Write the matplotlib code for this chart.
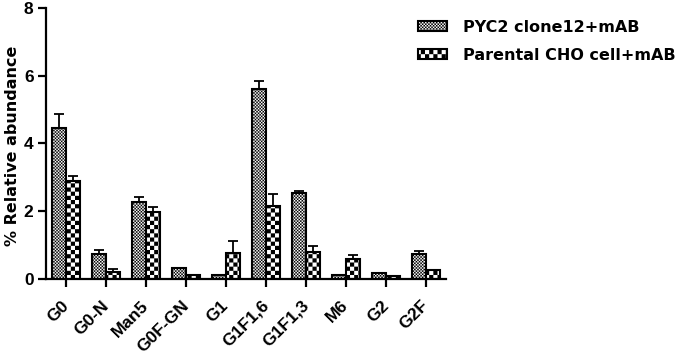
import warnings
warnings.filterwarnings("ignore")
import numpy as np
import matplotlib
matplotlib.use("Agg")
import matplotlib.pyplot as plt
import matplotlib.hatch as mhatch
from matplotlib.path import Path
from matplotlib.transforms import ScaledTranslation

categories = ["G0", "G0-N", "Man5", "G0F-GN", "G1", "G1F1,6", "G1F1,3", "M6", "G2", "G2F"]
pyc2_vals = [4.47, 0.74, 2.28, 0.32, 0.12, 5.62, 2.54, 0.12, 0.17, 0.74]
pyc2_err = [0.41, 0.11, 0.15, 0.01, 0.01, 0.22, 0.05, 0.01, 0.01, 0.10]
parent_vals = [2.89, 0.22, 1.98, 0.12, 0.77, 2.15, 0.79, 0.59, 0.08, 0.27]
parent_err = [0.15, 0.08, 0.16, 0.01, 0.36, 0.36, 0.19, 0.13, 0.01, 0.01]
series_labels = ["PYC2 clone12+mAB", "Parental CHO cell+mAB"]
yticks = [0, 2, 4, 6, 8]


class Checker(mhatch.HatchPatternBase):
    filled = True

    def __init__(self, hatch, density):
        self.n = 2 * (hatch.count('k') * 12 + hatch.count('f') * 32)
        self.num_vertices = (self.n * self.n // 2) * 5

    def set_vertices_and_codes(self, vertices, codes):
        n = self.n
        s = 1.0 / n
        k = 0
        for i in range(n):
            for j in range(n):
                if (i + j) % 2 == 0:
                    x0, y0 = i * s, j * s
                    vertices[k:k + 5] = [[x0, y0], [x0 + s, y0], [x0 + s, y0 + s],
                                         [x0, y0 + s], [x0, y0]]
                    codes[k] = Path.MOVETO
                    codes[k + 1:k + 4] = Path.LINETO
                    codes[k + 4] = Path.CLOSEPOLY
                    k += 5


mhatch._hatch_types.append(Checker)

plt.rcParams['font.family'] = ['Liberation Sans', 'DejaVu Sans']
plt.rcParams['font.weight'] = 'bold'
plt.rcParams['hatch.linewidth'] = 0.01

fig = plt.figure(figsize=(6.77, 3.56), dpi=100)
ax = fig.add_axes([0.068, 0.216, 0.591, 0.762])

x = np.arange(len(categories))
w = 0.355
b1 = ax.bar(x - w / 2, pyc2_vals, w, facecolor='white', edgecolor='black',
            linewidth=1.5, hatch='f', label=series_labels[0], zorder=2)
b2 = ax.bar(x + w / 2, parent_vals, w, facecolor='white', edgecolor='black',
            linewidth=1.5, hatch='k', label=series_labels[1], zorder=2)
ax.errorbar(x - w / 2, pyc2_vals, yerr=[np.zeros(len(x)), pyc2_err], fmt='none',
            ecolor='black', elinewidth=1.3, capsize=3.5, capthick=1.3, zorder=3)
ax.errorbar(x + w / 2, parent_vals, yerr=[np.zeros(len(x)), parent_err], fmt='none',
            ecolor='black', elinewidth=1.3, capsize=3.5, capthick=1.3, zorder=3)

ax.set_xlim(-0.5, len(categories) - 0.5)
ax.set_ylim(0, 8)
ax.set_yticks(yticks)
ax.set_yticklabels([str(t) for t in yticks], fontsize=12.5, fontweight='bold')
ax.set_xticks(x)
ax.set_xticklabels(categories, rotation=45, ha='right', va='center',
                   rotation_mode='anchor', fontsize=12.5, fontweight='bold')
off = ScaledTranslation(4 / 100, 0, fig.dpi_scale_trans)
for lab in ax.get_xticklabels():
    lab.set_transform(lab.get_transform() + off)
ax.set_ylabel("% Relative abundance", fontsize=11.5, fontweight='bold',
              family=['DejaVu Sans'], va='center')
ax.yaxis.set_label_coords(-0.083, 0.49)

for s in ['top', 'right']:
    ax.spines[s].set_visible(False)
for s in ['left', 'bottom']:
    ax.spines[s].set_linewidth(1.6)
ax.tick_params(axis='y', width=1.6, length=6, direction='out', pad=3)
ax.tick_params(axis='x', width=1.6, length=5.8, direction='out', pad=11.5)

leg = fig.legend(handles=[b1, b2], labels=series_labels, loc='upper left',
                 bbox_to_anchor=(418 / 677, 1 - 20 / 356), frameon=False,
                 borderpad=0, borderaxespad=0,
                 handlelength=1.8, handleheight=0.6, handletextpad=1.0,
                 labelspacing=0.8,
                 prop={'weight': 'bold', 'size': 11.5, 'family': ['DejaVu Sans']})

fig.savefig("out.png", dpi=100)
